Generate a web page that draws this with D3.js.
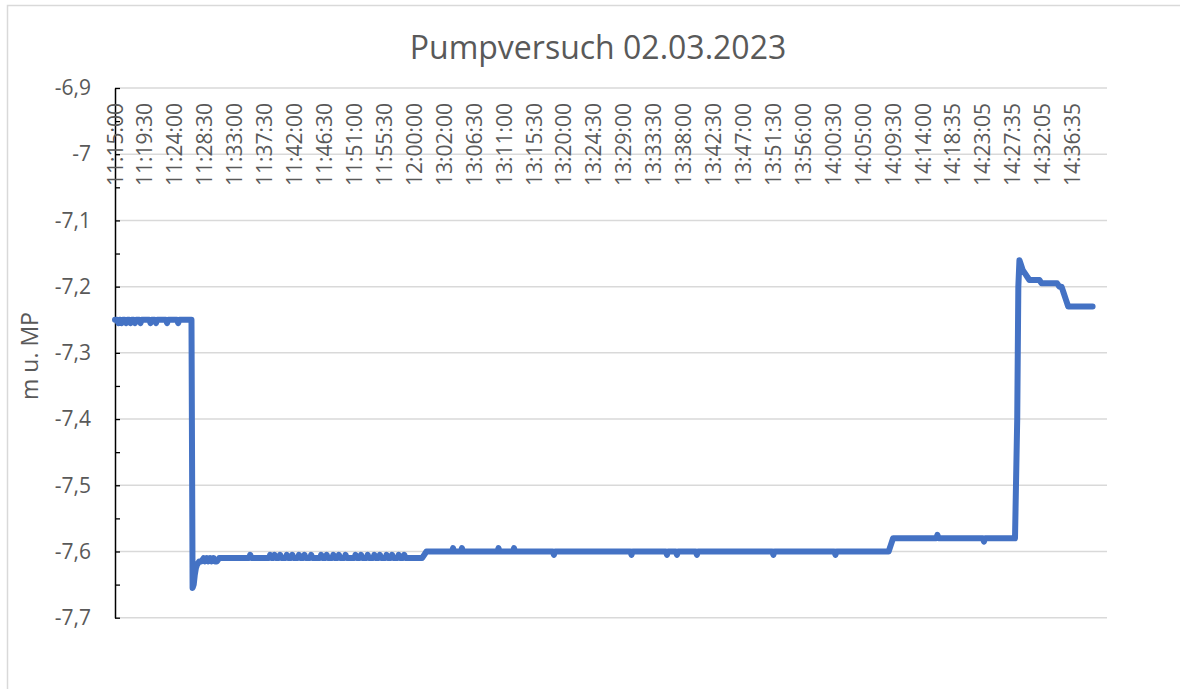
<!DOCTYPE html>
<html>
<head>
<meta charset="utf-8">
<script src="https://cdn.jsdelivr.net/npm/d3@7/dist/d3.min.js"></script>
<style>
  html, body { margin: 0; padding: 0; background: #ffffff; }
  text { font-family: "Open Sans", "Noto Sans", sans-serif; fill: #595959; }
</style>
</head>
<body>
<svg id="chart" width="1180" height="689"></svg>
<script>
// ---------------- DATA ----------------
const chartTitle = "Pumpversuch 02.03.2023";
const yAxisTitle = "m u. MP";

// Category labels (one label every 27 samples)
const tickLabels = [
  "11:15:00","11:19:30","11:24:00","11:28:30","11:33:00","11:37:30","11:42:00",
  "11:46:30","11:51:00","11:55:30","12:00:00","13:02:00","13:06:30","13:11:00",
  "13:15:30","13:20:00","13:24:30","13:29:00","13:33:30","13:38:00","13:42:30",
  "13:47:00","13:51:30","13:56:00","14:00:30","14:05:00","14:09:30","14:14:00",
  "14:18:35","14:23:05","14:27:35","14:32:05","14:36:35"
];
const samplesPerLabel = 27;
const sampleCount = 896;

const yTicks = [-6.9, -7.0, -7.1, -7.2, -7.3, -7.4, -7.5, -7.6, -7.7];
const yMinorTicks = [-6.95, -7.05, -7.15, -7.25, -7.35, -7.45, -7.55, -7.65];

// Sample index and water level (m below measuring point) at each vertex of the line
const sampleIndex = [
  0, 2, 3, 4, 5, 6, 7, 9, 10, 11, 13, 14, 15, 17, 18, 19, 22, 23, 24, 31, 32, 33,
  36, 37, 38, 46, 47, 48, 56, 57, 58, 69,
  70, 71, 72, 73, 74, 76, 78, 80, 81, 83, 84, 86, 87, 89, 90, 92, 94,
  121, 122, 123, 139, 140, 141, 143, 144, 145, 148, 149, 150, 154, 155, 156,
  159, 160, 161, 165, 166, 167, 170, 171, 172, 176, 177, 178,
  185, 186, 187, 190, 191, 192, 196, 197, 198, 201, 202, 203, 207, 208, 209,
  216, 217, 218, 221, 222, 223, 227, 228, 229, 233, 234, 235, 238, 239, 240,
  244, 245, 246, 249, 250, 251, 255, 256, 257, 260, 261, 262,
  277, 279, 281,
  304, 305, 306, 312, 313, 314, 345, 346, 347, 359, 360, 361,
  395, 396, 397, 465, 466, 467, 497, 498, 499, 506, 507, 508, 524, 525, 526,
  593, 594, 595, 649, 650, 651,
  698, 700, 702,
  741, 742, 743, 783, 784, 785,
  812, 814, 815, 816, 817, 819, 821, 823, 825, 834, 836, 850, 852, 854, 856, 858, 860, 882
];
const waterLevel = [
  -7.25, -7.25, -7.255, -7.25, -7.25, -7.255, -7.25, -7.25, -7.255, -7.25, -7.25, -7.255, -7.25, -7.25, -7.255, -7.25, -7.25, -7.255, -7.25, -7.25, -7.255, -7.25,
  -7.25, -7.255, -7.25, -7.25, -7.255, -7.25, -7.25, -7.255, -7.25, -7.25,
  -7.655, -7.65, -7.635, -7.625, -7.62, -7.615, -7.615, -7.61, -7.615, -7.61, -7.615, -7.61, -7.615, -7.61, -7.615, -7.615, -7.61,
  -7.61, -7.605, -7.61, -7.61, -7.605, -7.61, -7.61, -7.605, -7.61, -7.61, -7.605, -7.61, -7.61, -7.605, -7.61,
  -7.61, -7.605, -7.61, -7.61, -7.605, -7.61, -7.61, -7.605, -7.61, -7.61, -7.605, -7.61,
  -7.61, -7.605, -7.61, -7.61, -7.605, -7.61, -7.61, -7.605, -7.61, -7.61, -7.605, -7.61, -7.61, -7.605, -7.61,
  -7.61, -7.605, -7.61, -7.61, -7.605, -7.61, -7.61, -7.605, -7.61, -7.61, -7.605, -7.61, -7.61, -7.605, -7.61,
  -7.61, -7.605, -7.61, -7.61, -7.605, -7.61, -7.61, -7.605, -7.61, -7.61, -7.605, -7.61,
  -7.61, -7.605, -7.60,
  -7.60, -7.595, -7.60, -7.60, -7.595, -7.60, -7.60, -7.595, -7.60, -7.60, -7.595, -7.60,
  -7.60, -7.605, -7.60, -7.60, -7.605, -7.60, -7.60, -7.605, -7.60, -7.60, -7.605, -7.60, -7.60, -7.605, -7.60,
  -7.60, -7.605, -7.60, -7.60, -7.605, -7.60,
  -7.60, -7.59, -7.58,
  -7.58, -7.575, -7.58, -7.58, -7.585, -7.58,
  -7.58, -7.40, -7.20, -7.16, -7.165, -7.175, -7.18, -7.185, -7.19, -7.19, -7.195, -7.195, -7.20, -7.20, -7.21, -7.22, -7.23, -7.23
];

// ---------------- DRAW ----------------
const svg = d3.select("#chart");
const W = 1180, H = 689;
const plot = { left: 115, right: 1107, top: 88, bottom: 617.7 };

svg.append("rect").attr("width", W).attr("height", H).attr("fill", "#ffffff");
svg.append("rect")
  .attr("x", 7.5).attr("y", 5.5).attr("width", W + 10).attr("height", H + 10)
  .attr("fill", "none").attr("stroke", "#d9d9d9").attr("stroke-width", 1.5);

const x = d3.scaleLinear().domain([0, sampleCount - 1]).range([plot.left, plot.right]);
const y = d3.scaleLinear().domain([-7.7, -6.9]).range([plot.bottom, plot.top]);

// gridlines
svg.append("g").selectAll("line").data(yTicks).join("line")
  .attr("x1", plot.left).attr("x2", plot.right)
  .attr("y1", d => y(d)).attr("y2", d => y(d))
  .attr("stroke", "#d9d9d9").attr("stroke-width", 1.5);

// y tick labels
const fmt = d => String(+d.toFixed(2)).replace(".", ",");
const yLab = svg.append("g").attr("transform", `translate(${plot.left},0)`)
  .call(d3.axisLeft(y).tickValues(yTicks).tickFormat(fmt).tickSize(0).tickPadding(24));
yLab.select(".domain").remove();
yLab.selectAll("text").style("font-family", '"Open Sans", sans-serif')
  .style("font-size", "21px").attr("fill", "#595959");

// y axis line + ticks (inside)
const yAx = svg.append("g").attr("transform", `translate(${plot.left},0)`)
  .call(d3.axisRight(y).tickValues(yTicks.concat(yMinorTicks)).tickFormat("").tickSize(5).tickSizeOuter(0));
yAx.select(".domain").attr("stroke", "#000").attr("stroke-width", 1.5);
yAx.selectAll(".tick line").attr("stroke", "#000").attr("stroke-width", 1.3);

// x category labels (rotated)
svg.append("g").selectAll("text").data(tickLabels).join("text")
  .attr("transform", (d, i) => `translate(${x(i * samplesPerLabel)},103) rotate(-90)`)
  .attr("text-anchor", "end").attr("dy", "0.36em")
  .style("font-size", "21px")
  .text(d => d);

// line
const pts = sampleIndex.map((s, i) => [s, waterLevel[i]]);
svg.append("path").datum(pts)
  .attr("fill", "none").attr("stroke", "#4472C4").attr("stroke-width", 6)
  .attr("stroke-linejoin", "round").attr("stroke-linecap", "round")
  .attr("d", d3.line().x(d => x(d[0])).y(d => y(d[1])));

// title
svg.append("text").attr("x", 598).attr("y", 59).attr("text-anchor", "middle")
  .style("font-size", "32px").text(chartTitle);

// y axis title
svg.append("text").attr("transform", "translate(30,356) rotate(-90)")
  .attr("text-anchor", "middle").attr("dy", "0.36em")
  .style("font-size", "23px").text(yAxisTitle);
</script>
</body>
</html>
